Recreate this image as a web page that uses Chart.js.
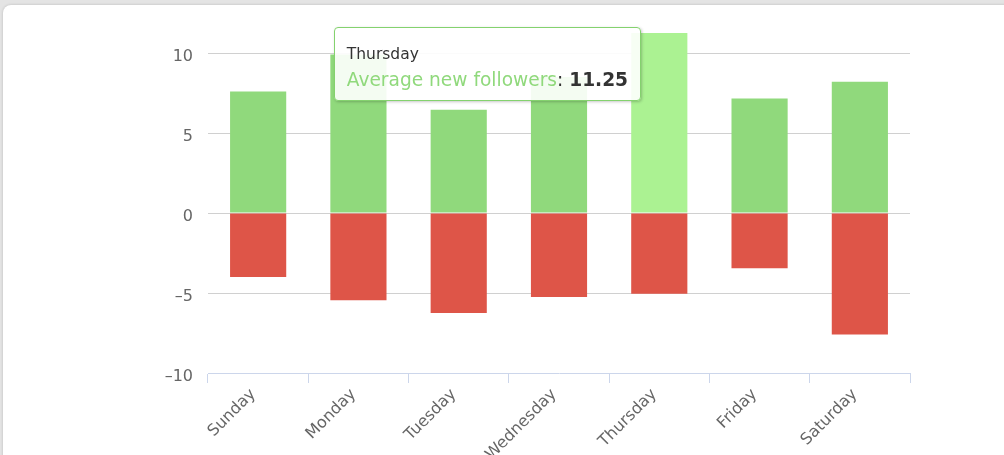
<!DOCTYPE html>
<html>
<head>
<meta charset="utf-8">
<script src="https://cdn.jsdelivr.net/npm/chart.js@4"></script>
<style>
    html, body { margin: 0; padding: 0; width: 1004px; height: 455px; overflow: hidden; background: #e4e4e4; }
    .card { position: absolute; left: 3px; top: 5px; width: 1100px; height: 520px; background: #fff; border-radius: 8px; box-shadow: 0 0 3px rgba(0,0,0,0.18); }
    #chart { position: absolute; left: 0; top: 0; }
    #tip { position: absolute; opacity: 0; pointer-events: none; background: rgba(255,255,255,0.9);
        border: 1.5px solid #84d26e; border-radius: 4px; box-shadow: 1px 1px 3px rgba(0,0,0,0.22);
        padding: 15.5px 11.5px 8.5px 11.5px; font-family: "DejaVu Sans", sans-serif; color: #333; white-space: nowrap; }
    #tip .t { font-size: 15.5px; line-height: 20px; }
    #tip .b { font-size: 18.6px; line-height: 25px; margin-top: 3px; }
    #tip .n { color: #90d97c; }
</style>
</head>
<body>
<div class="card"></div>
<canvas id="chart" width="1004" height="470"></canvas>
<div id="tip"></div>
<script>
// Weekly follower averages
const days = ['Sunday', 'Monday', 'Tuesday', 'Wednesday', 'Thursday', 'Friday', 'Saturday'];
const newFollowers = [7.6, 9.9, 6.45, 8.5, 11.25, 7.15, 8.2];
const lostFollowers = [-4.0, -5.45, -6.25, -5.25, -5.05, -3.45, -7.6];
const yTicks = [-10, -5, 0, 5, 10];
const highlightDay = 4;

document.addEventListener('DOMContentLoaded', () => {
    const tipEl = document.getElementById('tip');

    function externalTooltip({ chart, tooltip }) {
        if (tooltip.opacity === 0) {
            tipEl.style.opacity = 0;
            return;
        }
        const dp = tooltip.dataPoints[0];
        tipEl.innerHTML = `<div class="t">${dp.label}</div>` +
            `<div class="b"><span class="n">${dp.dataset.label}</span>: <b>${dp.formattedValue}</b></div>`;
        const box = chart.canvas.getBoundingClientRect();
        tipEl.style.left = (box.left + tooltip.caretX - 19 - tipEl.offsetWidth) + 'px';
        tipEl.style.top = (box.top + tooltip.caretY - 6) + 'px';
        tipEl.style.opacity = 1;
    }

    const ctx = document.getElementById('chart').getContext('2d');
    const chart = new Chart(ctx, {
        type: 'bar',
        data: {
            labels: days,
            datasets: [
                {
                    label: 'Average new followers',
                    data: newFollowers,
                    backgroundColor: '#90d97c',
                    hoverBackgroundColor: '#abf292',
                    borderWidth: 0,
                    barPercentage: 0.56,
                    categoryPercentage: 1
                },
                {
                    label: 'Average lost followers',
                    data: lostFollowers,
                    backgroundColor: '#de5548',
                    hoverBackgroundColor: '#de5548',
                    borderWidth: 0,
                    barPercentage: 0.56,
                    categoryPercentage: 1
                }
            ]
        },
        options: {
            responsive: false,
            animation: false,
            events: [],
            layout: {
                padding: { left: 148, top: 13, right: 94, bottom: 7 }
            },
            scales: {
                x: {
                    stacked: true,
                    afterFit: scale => { scale.height = 90; },
                    grid: {
                        display: true,
                        offset: true,
                        drawOnChartArea: false,
                        drawTicks: true,
                        tickLength: 10,
                        color: '#ccd6eb'
                    },
                    border: { display: true, color: '#ccd6eb' },
                    ticks: {
                        minRotation: 45,
                        maxRotation: 45,
                        padding: 2,
                        labelOffset: -5,
                        color: '#666',
                        font: { family: 'DejaVu Sans', size: 16 }
                    }
                },
                y: {
                    stacked: true,
                    min: -10,
                    max: 12.5,
                    afterFit: scale => {
                        scale.width = 60;
                        scale.paddingTop = 0;
                        scale.paddingBottom = 0;
                    },
                    afterBuildTicks: scale => {
                        scale.ticks = yTicks.map(v => ({ value: v }));
                    },
                    grid: {
                        drawTicks: false,
                        color: ctx => ctx.tick && ctx.tick.value === -10 ? 'rgba(0,0,0,0)' : '#d0d0d0'
                    },
                    border: { display: false },
                    ticks: {
                        padding: 15,
                        labelOffset: 4,
                        color: '#666',
                        font: { family: 'DejaVu Sans', size: 16 },
                        callback: value => String(value).replace('-', '\u2013')
                    }
                }
            },
            plugins: {
                legend: { display: false },
                tooltip: {
                    enabled: false,
                    external: externalTooltip
                }
            }
        }
    });

    const active = [{ datasetIndex: 0, index: highlightDay }];
    chart.setActiveElements(active);
    chart.tooltip.setActiveElements(active, { x: 0, y: 0 });
    chart.update();
});
</script>
</body>
</html>
